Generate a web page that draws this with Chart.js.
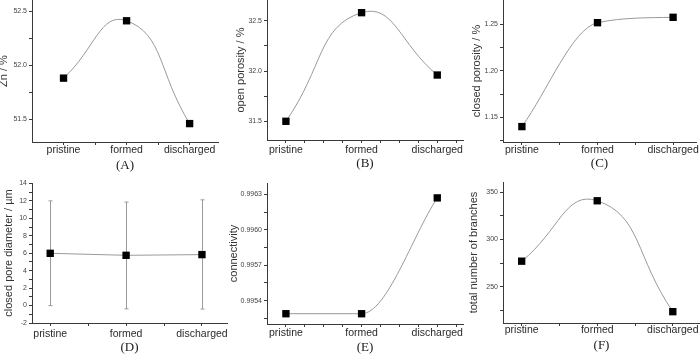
<!DOCTYPE html>
<html>
<head>
<meta charset="utf-8">
<script src="https://cdn.jsdelivr.net/npm/chart.js@4.4.0/dist/chart.umd.min.js"></script>
<style>
  html, body { margin: 0; padding: 0; background: #fff; }
  body { width: 700px; height: 356px; position: relative; overflow: hidden; }
  canvas { position: absolute; }
</style>
</head>
<body>
<script>
// stages on the x axis (x = 1, 2, 3)
const stages = ["pristine", "formed", "discharged"];

// values
const zn = [51.88, 52.41, 51.46];
const openPorosity = [31.50, 32.58, 31.96];
const closedPorosity = [1.140, 1.2517, 1.2575];
const poreDiameter = [5.99, 5.76, 5.84];
const poreLow = [0.0, -0.38, -0.40];
const poreHigh = [12.0, 11.86, 12.12];
const connectivity = [0.99529, 0.99529, 0.99627];
const branches = [277, 341, 223.5];

// y tick positions and their labels ('' = minor tick)
const znTicks = [51.5, 51.75, 52.0, 52.25, 52.5];
const znLabels = ["51.5", "", "52.0", "", "52.5"];
const openTicks = [31.5, 31.75, 32.0, 32.25, 32.5];
const openLabels = ["31.5", "", "32.0", "", "32.5"];
const closedTicks = [1.125, 1.15, 1.175, 1.2, 1.225, 1.25];
const closedLabels = ["", "1.15", "", "1.20", "", "1.25"];
const poreTicks = [-2, -1, 0, 1, 2, 3, 4, 5, 6, 7, 8, 9, 10, 11, 12, 13, 14];
const poreLabels = ["-2", "", "0", "", "2", "", "4", "", "6", "", "8", "", "10", "", "12", "", "14"];
const connTicks = [0.99525, 0.9954, 0.99555, 0.9957, 0.99585, 0.9960, 0.99615, 0.9963];
const connLabels = ["", "0.9954", "", "0.9957", "", "0.9960", "", "0.9963"];
const branchTicks = [225, 250, 275, 300, 325, 350];
const branchLabels = ["", "250", "", "300", "", "350"];

// x tick positions
const stageTicksA = [1, 1.5, 2, 2.5, 3];
const stageTicksFine = [1, 1.25, 1.5, 1.75, 2, 2.25, 2.5, 2.75, 3, 3.25];
const stageTicks = [1, 1.5, 2, 2.5, 3];

const errorBars = {
    id: 'errorBars',
    beforeDatasetsDraw(chart) {
        const { ctx, scales: { x, y } } = chart;
        ctx.save();
        ctx.strokeStyle = '#9a9a9a';
        ctx.lineWidth = 1;
        poreLow.forEach((lo, i) => {
            const px = Math.round(x.getPixelForValue(i + 1)) + 0.5;
            const top = y.getPixelForValue(poreHigh[i]);
            const bot = y.getPixelForValue(lo);
            ctx.beginPath();
            ctx.moveTo(px, top);
            ctx.lineTo(px, bot);
            ctx.moveTo(px - 2, top);
            ctx.lineTo(px + 2, top);
            ctx.moveTo(px - 2, bot);
            ctx.lineTo(px + 2, bot);
            ctx.stroke();
        });
        ctx.restore();
    }
};

const PAD_TOP = 8; // room above the plot for the top tick label

function makePanel(p) {
    const canvas = document.createElement('canvas');
    canvas.width = p.yW + p.plotW + 30;
    canvas.height = p.h + PAD_TOP;
    canvas.style.left = p.left + 'px';
    canvas.style.top = (p.top - PAD_TOP) + 'px';
    document.body.appendChild(canvas);

    const axisColor = '#3a3a3a';
    new Chart(canvas.getContext('2d'), {
        type: 'line',
        data: {
            datasets: [{
                data: p.values.map((v, i) => ({ x: i + 1, y: v })),
                borderColor: '#999',
                borderWidth: 1,
                pointStyle: 'rect',
                pointRadius: 5.2,
                pointBackgroundColor: '#000',
                pointBorderColor: '#000',
                pointBorderWidth: 0,
                tension: p.tension,
                cubicInterpolationMode: p.mode || 'default',
                clip: false,
            }]
        },
        options: {
            responsive: false,
            animation: false,
            layout: { autoPadding: false, padding: { top: PAD_TOP, left: 0, bottom: 0, right: 30 } },
            plugins: { legend: { display: false }, tooltip: { enabled: false } },
            scales: {
                x: {
                    type: 'linear',
                    min: p.xMin,
                    max: p.xMax,
                    afterBuildTicks: (s) => { s.ticks = p.xTicks.map(v => ({ value: v })); },
                    afterFit: (s) => { s.height = p.h - p.plotH; s.paddingLeft = 0; s.paddingRight = 0; },
                    border: { display: true, color: axisColor, width: 1 },
                    grid: { drawOnChartArea: false, drawTicks: true, tickLength: 3, color: axisColor },
                    ticks: {
                        autoSkip: false,
                        maxRotation: 0,
                        padding: p.xPad,
                        color: '#2a2a2a',
                        font: { family: 'Liberation Sans, Arial, sans-serif', size: 10.5, lineHeight: 1 },
                        callback: (v) => Number.isInteger(v) ? stages[v - 1] : ''
                    },
                    title: {
                        display: true,
                        text: p.caption,
                        color: '#1a1a1a',
                        padding: 0,
                        font: { family: 'Liberation Serif, Times New Roman, serif', size: 13 }
                    }
                },
                y: {
                    min: p.yMin,
                    max: p.yMax,
                    afterBuildTicks: (s) => { s.ticks = p.yTicks.map(v => ({ value: v })); },
                    afterFit: (s) => { s.width = p.yW; s.paddingTop = 0; s.paddingBottom = 0; },
                    border: { display: true, color: axisColor, width: 1 },
                    grid: { drawOnChartArea: false, drawTicks: true, tickLength: 3, color: axisColor },
                    ticks: {
                        autoSkip: false,
                        padding: 2,
                        color: '#444',
                        font: { family: 'Liberation Sans, Arial, sans-serif', size: 7 },
                        callback: (v, i) => p.yLabels[i]
                    },
                    title: {
                        display: true,
                        text: p.yTitle,
                        color: '#333',
                        padding: 0,
                        font: { family: 'Liberation Sans, Arial, sans-serif', size: 11 }
                    }
                }
            }
        },
        plugins: p.extra ? [p.extra] : []
    });
}

// panel (A)
makePanel({
    left: -3, top: 0, yW: 35, plotW: 186, h: 173, plotH: 142, xPad: 0,
    xMin: 0.5, xMax: 3.45, xTicks: stageTicksA,
    yMin: 51.290, yMax: 52.602, yTicks: znTicks, yLabels: znLabels,
    values: zn, tension: 0.5, yTitle: 'Zn / %', caption: '(A)'
});
// panel (B)
makePanel({
    left: 234, top: 0, yW: 33, plotW: 196, h: 171, plotH: 140, xPad: 1.5,
    xMin: 0.75, xMax: 3.34, xTicks: stageTicksFine,
    yMin: 31.314, yMax: 32.706, yTicks: openTicks, yLabels: openLabels,
    values: openPorosity, tension: 0.5, yTitle: 'open porosity / %', caption: '(B)'
});
// panel (C)
makePanel({
    left: 470, top: 0, yW: 33, plotW: 193, h: 171, plotH: 142, xPad: 0,
    xMin: 0.75, xMax: 3.303, xTicks: stageTicks,
    yMin: 1.12344, yMax: 1.2761, yTicks: closedTicks, yLabels: closedLabels,
    values: closedPorosity, tension: 0.4, mode: 'monotone', yTitle: 'closed porosity / %', caption: '(C)'
});
// panel (D)
makePanel({
    left: 2, top: 183, yW: 30, plotW: 195, h: 172, plotH: 140, xPad: 2.5,
    xMin: 0.76, xMax: 3.33, xTicks: stageTicks,
    yMin: -2, yMax: 14.05, yTicks: poreTicks, yLabels: poreLabels,
    values: poreDiameter, tension: 0, yTitle: 'closed pore diameter / µm', caption: '(D)',
    extra: errorBars
});
// panel (E)
makePanel({
    left: 227, top: 183, yW: 40, plotW: 196, h: 172, plotH: 141, xPad: 0.5,
    xMin: 0.75, xMax: 3.34, xTicks: stageTicksFine,
    yMin: 0.995203, yMax: 0.996396, yTicks: connTicks, yLabels: connLabels,
    values: connectivity, tension: 0.4, mode: 'monotone', yTitle: 'connectivity', caption: '(E)'
});
// panel (F)
makePanel({
    left: 467, top: 182, yW: 36, plotW: 197, h: 171, plotH: 141, xPad: -1,
    xMin: 0.753, xMax: 3.36, xTicks: stageTicks,
    yMin: 211.5, yMax: 360.9, yTicks: branchTicks, yLabels: branchLabels,
    values: branches, tension: 0.5, yTitle: 'total number of branches', caption: '(F)'
});
</script>
</body>
</html>
